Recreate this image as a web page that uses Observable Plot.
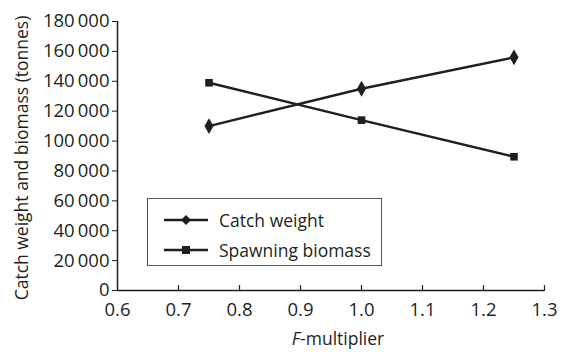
<!DOCTYPE html>
<html><head><meta charset="utf-8">
<script src="https://cdn.jsdelivr.net/npm/d3@7"></script>
<script src="https://cdn.jsdelivr.net/npm/@observablehq/plot@0.6"></script>
<style>
body{margin:0;background:#fff;}
#wrap{position:relative;width:565px;height:352px;font-family:"Open Sans",sans-serif;color:#231f20;}
#legend{position:absolute;left:147px;top:198px;width:235px;height:68px;border:1px solid #555;background:#fff;box-sizing:border-box;}
.li{position:absolute;left:0;height:24px;display:flex;align-items:center;font-size:17.5px;white-space:nowrap;}
.li svg{margin-left:16px;margin-right:11px;}
</style></head>
<body><div id="wrap"><div id="chart"></div><div id="legend"></div></div>
<script>
const fMultiplier = [0.75, 1.0, 1.25];
const catchWeight = [110000, 135000, 156000];
const spawningBiomass = [139000, 114000, 89500];
const seriesNames = ["Catch weight", "Spawning biomass"];
const xTicks = [0.6, 0.7, 0.8, 0.9, 1.0, 1.1, 1.2, 1.3];
const yTicks = [0, 20000, 40000, 60000, 80000, 100000, 120000, 140000, 160000, 180000];

const rows = [];
fMultiplier.forEach((f, i) => {
  rows.push({f, v: catchWeight[i], s: seriesNames[0]});
  rows.push({f, v: spawningBiomass[i], s: seriesNames[1]});
});
const ink = "#1f1f1f";
const fmtY = d => d === 0 ? "0" : d3.format(",")(d).replace(/,/g, "\u2009");
const tickUp = {draw(ctx, l){ ctx.moveTo(0,0); ctx.lineTo(0,-l); }};

const chart = Plot.plot({
  width: 565, height: 352,
  marginLeft: 117, marginRight: 21, marginTop: 21, marginBottom: 62,
  style: {fontFamily: "Open Sans, sans-serif", fontSize: "18.5px", color: "#231f20"},
  x: {domain: [0.6, 1.3]},
  y: {domain: [0, 180000]},
  marks: [
    Plot.axisY({ticks: yTicks, tickFormat: fmtY, tickSize: 5, tickPadding: 3, label: null, stroke: ink}),
    Plot.axisX({ticks: xTicks, tickFormat: d3.format(".1f"), tickSize: 0, tickPadding: 12, label: null}),
    Plot.vector(xTicks.slice(1), {x: d => d, y: 0, length: 5, anchor: "start", shape: tickUp, stroke: ink, strokeWidth: 1.2}),
    Plot.ruleX([0.6], {stroke: ink, strokeWidth: 1.5}),
    Plot.ruleY([0], {stroke: ink, strokeWidth: 1.5}),
    Plot.line(rows, {x: "f", y: "v", z: "s", stroke: ink, strokeWidth: 2.4}),
    Plot.dot(rows.filter(d => d.s === seriesNames[0]), {x: "f", y: "v", symbol: "diamond", r: 4.8, fill: ink}),
    Plot.dot(rows.filter(d => d.s === seriesNames[1]), {x: "f", y: "v", symbol: "square", r: 4.3, fill: ink}),
    Plot.text(["Catch weight and biomass (tonnes)"], {frameAnchor: "left", textAnchor: "middle", dx: -95, dy: 2, rotate: -90, fontSize: 17.5, fill: "#231f20"})
  ]
});
document.getElementById("chart").appendChild(chart);

// x-axis label with italic F
const svg = d3.select(chart);
const t = svg.append("text").attr("x", 338).attr("y", 345).attr("text-anchor", "middle")
  .attr("font-size", 17.5).attr("fill", "#231f20").attr("font-family", "Open Sans, sans-serif");
t.append("tspan").attr("font-style", "italic").text("F");
t.append("tspan").text("-multiplier");

// legend
const legend = document.getElementById("legend");
seriesNames.forEach((name, i) => {
  const row = document.createElement("div");
  row.className = "li";
  row.style.top = (9 + i * 30) + "px";
  const sym = i === 0
    ? '<path d="M22,-5 L27,0 L22,5 L17,0Z" fill="'+ink+'"/>'
    : '<rect x="18" y="-4" width="8" height="8" fill="'+ink+'"/>';
  row.innerHTML = '<svg width="44" height="12" viewBox="0 -6 44 12"><line x1="0" x2="44" y1="0" y2="0" stroke="'+ink+'" stroke-width="2.4"/>' + sym + '</svg><span>' + name + '</span>';
  legend.appendChild(row);
});
</script></body></html>
